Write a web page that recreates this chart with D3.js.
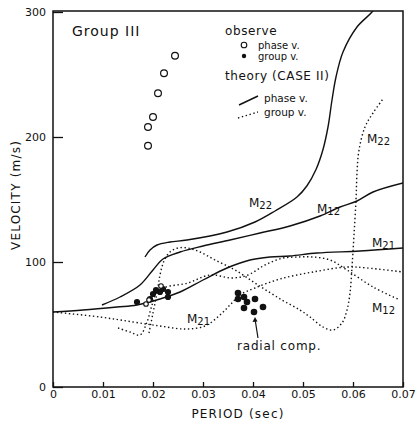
<!DOCTYPE html>
<html><head><meta charset="utf-8">
<script src="https://cdn.jsdelivr.net/npm/d3@7"></script>
<style>
html,body{margin:0;padding:0;background:#fff;}
svg{display:block;}
text{font-family:"DejaVu Sans",sans-serif;fill:#111;}
</style></head>
<body>
<script>
// ---- data: [period (sec), velocity (m/s)] ----
const xTicks = [0, 0.01, 0.02, 0.03, 0.04, 0.05, 0.06, 0.07];
const yTicks = [0, 100, 200, 300];

const phaseM22 = [[0.0184,104],[0.0194,109.6],[0.0208,113.6],[0.0234,116],[0.0268,117.6],[0.0348,124],[0.0404,132],[0.0444,140.8],[0.0488,152],[0.0508,161],[0.0526,174],[0.054,190],[0.055,208],[0.0558,229.6],[0.0566,248],[0.058,268],[0.0608,288],[0.0638,300],[0.066,312]];
const phaseM12 = [[0.0098,65.6],[0.0134,72],[0.0174,81.6],[0.02,93.6],[0.022,102.4],[0.0254,108],[0.03,112.8],[0.0354,117.6],[0.0414,123.2],[0.0474,128.8],[0.0534,136.8],[0.0574,144],[0.0608,148.8],[0.064,156],[0.07,163.2]];
const phaseM21 = [[0,60],[0.006,61.6],[0.0128,64],[0.0168,65.6],[0.0214,70.4],[0.0254,76],[0.03,85.6],[0.0348,95.2],[0.0394,101.6],[0.0434,104],[0.0474,104.8],[0.0528,107.2],[0.0614,108.8],[0.07,111.2]];

const groupM21 = [[0,60],[0.0094,56],[0.016,52],[0.0214,48.8],[0.0264,46.4],[0.0304,48.8],[0.0334,57.6],[0.0354,65.6],[0.0374,73.6],[0.0404,79.2],[0.0454,86.4],[0.052,92],[0.0588,96],[0.0628,95.2],[0.07,92]];
const groupM12 = [[0.013,47.2],[0.0154,44],[0.0174,41.6],[0.0188,52],[0.0198,65.6],[0.0208,76],[0.0226,80],[0.0268,83],[0.0314,89.6],[0.0358,87.2],[0.039,89.6],[0.0424,97.6],[0.0458,103],[0.049,104],[0.052,104],[0.0554,101.6],[0.0588,93.6],[0.064,80],[0.0694,69.6]];
const groupM22 = [[0.0192,43.2],[0.02,59.2],[0.0208,75.2],[0.0214,89.6],[0.0222,100.8],[0.0234,108],[0.025,111.2],[0.027,111.2],[0.0294,108],[0.0324,101.6],[0.0364,93.6],[0.041,81.6],[0.0458,69.6],[0.0494,61.6],[0.0514,56],[0.054,48],[0.056,45.6],[0.0578,51.2],[0.0588,61.6],[0.0594,75.2],[0.0598,96],[0.0602,121.6],[0.0606,149.6],[0.0608,171.2],[0.0612,189.6],[0.0624,208],[0.064,219.2],[0.066,230.4]];

const obsPhase = [[0.019,193],[0.019,208],[0.020,216],[0.021,235],[0.0222,251],[0.0244,265]];
const obsPhaseSmall = [[0.0186,66.4],[0.0192,69.6],[0.0216,80.8]];
const obsGroup = [[0.0168,68],[0.0194,70.4],[0.02,74.4],[0.0206,77.6],[0.0214,76],[0.022,78.4],[0.023,76],[0.023,72]];
const radial = [[0.037,75.2],[0.037,70.4],[0.0382,72],[0.0388,68],[0.0404,70.4],[0.0382,63.2],[0.0402,60],[0.042,64]];

const modeLabels = [["M","22",0.0392,144],["M","12",0.0528,139.2],["M","21",0.0638,112],["M","12",0.0638,60],["M","21",0.0268,51.2],["M","22",0.0628,195.2]];

// ---- drawing ----
const W = 417, H = 423;
const svg = d3.select("body").append("svg").attr("width", W).attr("height", H);
const x = d3.scaleLinear().domain([0, 0.07]).range([53, 403]);
const y = d3.scaleLinear().domain([0, 300]).range([387, 12]);

svg.append("defs").append("clipPath").attr("id","clip")
  .append("rect").attr("x",53).attr("y",11).attr("width",350).attr("height",377);

// frame
svg.append("rect").attr("x",53).attr("y",11).attr("width",350).attr("height",376)
  .attr("fill","none").attr("stroke","#111").attr("stroke-width",1.5);

// axes
const xa = svg.append("g").attr("transform","translate(0,387)")
  .call(d3.axisBottom(x).tickValues(xTicks).tickSize(-5).tickPadding(3)
    .tickFormat(d => d === 0 ? "0" : d3.format(".2f")(d)));
xa.select(".domain").remove();
xa.selectAll("line").attr("stroke","#111").attr("stroke-width",1.3);
xa.selectAll("text").attr("font-size",11).attr("fill","#111").style("font-family","DejaVu Sans");

const ya = svg.append("g").attr("transform","translate(53,0)")
  .call(d3.axisLeft(y).tickValues(yTicks).tickSize(-10).tickPadding(7));
ya.select(".domain").remove();
ya.selectAll("line").attr("stroke","#111").attr("stroke-width",1.3);
ya.selectAll("text").attr("font-size",11).attr("fill","#111").style("font-family","DejaVu Sans");

// axis titles
svg.append("text").attr("x",238).attr("y",418).attr("text-anchor","middle")
  .attr("font-size",12).attr("letter-spacing",1.2).text("PERIOD (sec)");
svg.append("text").attr("transform","translate(20,195) rotate(-90)").attr("text-anchor","middle")
  .attr("font-size",12).attr("letter-spacing",1.2).text("VELOCITY (m/s)");

const plot = svg.append("g").attr("clip-path","url(#clip)");
const line = d3.line().x(d => x(d[0])).y(d => y(d[1])).curve(d3.curveCatmullRom.alpha(0.5));

[phaseM22, phaseM12, phaseM21].forEach(s => {
  plot.append("path").datum(s).attr("d", line).attr("fill","none")
    .attr("stroke","#111").attr("stroke-width",1.4);
});
[groupM21, groupM12, groupM22].forEach(s => {
  plot.append("path").datum(s).attr("d", line).attr("fill","none")
    .attr("stroke","#111").attr("stroke-width",1.4).attr("stroke-dasharray","1.4,2.6");
});

// observed points
plot.selectAll(".op").data(obsPhase).join("circle")
  .attr("cx", d => x(d[0])).attr("cy", d => y(d[1])).attr("r",3.4)
  .attr("fill","#fff").attr("stroke","#111").attr("stroke-width",1.2);
plot.selectAll(".og").data(obsGroup).join("circle")
  .attr("cx", d => x(d[0])).attr("cy", d => y(d[1])).attr("r",3.1)
  .attr("fill","#111");
plot.selectAll(".ops").data(obsPhaseSmall).join("circle")
  .attr("cx", d => x(d[0])).attr("cy", d => y(d[1])).attr("r",2.3)
  .attr("fill","#fff").attr("stroke","#111").attr("stroke-width",1.1);
plot.selectAll(".rd").data(radial).join("circle")
  .attr("cx", d => x(d[0])).attr("cy", d => y(d[1])).attr("r",3.3)
  .attr("fill","#111");

// radial comp arrow + label
svg.append("line").attr("x1",258).attr("y1",338).attr("x2",255).attr("y2",319)
  .attr("stroke","#111").attr("stroke-width",1.2);
svg.append("path").attr("d","M252.5,322 L255,317 L257.5,321.5 Z").attr("fill","#111");
svg.append("text").attr("x",237).attr("y",350).attr("font-size",12).attr("letter-spacing",0.8).text("radial comp.");

// mode labels
modeLabels.forEach(m => {
  const t = svg.append("text").attr("x", x(m[2])).attr("y", y(m[3])).attr("font-size",12);
  t.append("tspan").text(m[0]);
  t.append("tspan").attr("font-size",10).attr("dy",1.5).text(m[1]);
});

// title
svg.append("text").attr("x",72).attr("y",36).attr("font-size",14).attr("letter-spacing",1).text("Group III");

// legend
svg.append("text").attr("x",225).attr("y",35).attr("font-size",12).attr("letter-spacing",0.6).text("observe");
svg.append("circle").attr("cx",244).attr("cy",45).attr("r",2.8).attr("fill","#fff").attr("stroke","#111").attr("stroke-width",1.1);
svg.append("text").attr("x",258).attr("y",49).attr("font-size",10).text("phase v.");
svg.append("circle").attr("cx",244).attr("cy",56).attr("r",2.2).attr("fill","#111");
svg.append("text").attr("x",258).attr("y",60).attr("font-size",10).text("group v.");
svg.append("text").attr("x",225).attr("y",80).attr("font-size",12).attr("letter-spacing",0.6).text("theory (CASE II)");
svg.append("line").attr("x1",239).attr("y1",105).attr("x2",258).attr("y2",96).attr("stroke","#111").attr("stroke-width",1.4);
svg.append("text").attr("x",264).attr("y",102).attr("font-size",10.5).text("phase v.");
svg.append("line").attr("x1",238).attr("y1",118).attr("x2",258).attr("y2",112).attr("stroke","#111").attr("stroke-width",1.4).attr("stroke-dasharray","1.4,2.6");
svg.append("text").attr("x",264).attr("y",116).attr("font-size",10.5).text("group v.");
</script>
</body></html>
